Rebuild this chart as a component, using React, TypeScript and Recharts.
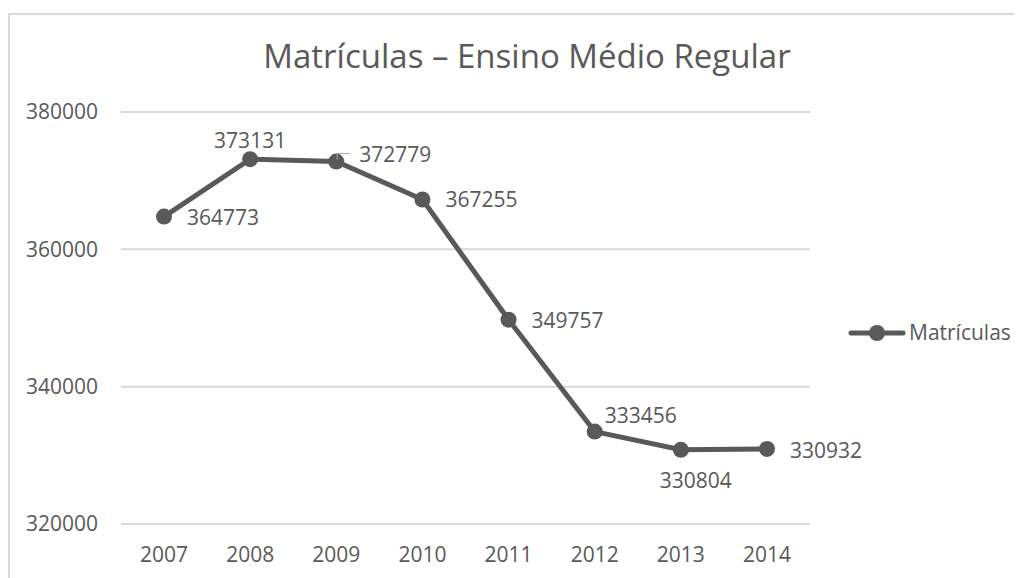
import React from "react";
import { LineChart, Line, XAxis, YAxis, CartesianGrid, LabelList } from "recharts";

const years = ["2007", "2008", "2009", "2010", "2011", "2012", "2013", "2014"];
const matriculas = [364773, 373131, 372779, 367255, 349757, 333456, 330804, 330932];
const yTicks = [320000, 340000, 360000, 380000];
const seriesName = "Matrículas";
const title = "Matrículas – Ensino Médio Regular";

// where each data label sits relative to its point (Excel put them by hand)
const labelSpots = [
  { dx: 23, dy: 8, anchor: "start" },
  { dx: 0, dy: -11, anchor: "middle" },
  { dx: 23, dy: 0, anchor: "start", leader: true },
  { dx: 23, dy: 7, anchor: "start" },
  { dx: 23, dy: 8, anchor: "start" },
  { dx: 10, dy: -9, anchor: "start" },
  { dx: 15, dy: 38, anchor: "middle" },
  { dx: 23, dy: 9, anchor: "start" },
];

const GRAY = "#595959";
const FONT = "'Open Sans', sans-serif";

const data = years.map((y, i) => ({ year: y, value: matriculas[i] }));

function PointLabel(props: any) {
  const { x, y, value, index } = props;
  const s = labelSpots[index];
  return (
    <g>
      {s.leader && (
        <polyline
          points={`${x + 1},${y - 2} ${x + 1},${y - 8} ${x + 14},${y - 8}`}
          fill="none"
          stroke="#a6a6a6"
          strokeWidth={1}
        />
      )}
      <text
        x={x + s.dx}
        y={y + s.dy}
        textAnchor={s.anchor}
        fill={GRAY}
        fontSize={21}
        fontFamily={FONT}
      >
        {value}
      </text>
    </g>
  );
}

export default function App() {
  return (
    <div style={{ position: "relative", width: 1014, height: 570, overflow: "hidden", background: "#fff" }}>
      <div
        style={{
          position: "absolute",
          left: 0,
          top: 5,
          width: 1100,
          height: 700,
          border: "2px solid #d9d9d9",
        }}
      />
      <LineChart
        width={1014}
        height={570}
        data={data}
        margin={{ top: 104, right: 212, left: 0, bottom: 0 }}
        style={{ position: "absolute", left: 0, top: 0 }}
      >
        <CartesianGrid vertical={false} stroke="#d9d9d9" strokeWidth={2} />
        <XAxis
          dataKey="year"
          height={54}
          interval={0}
          axisLine={false}
          tickLine={false}
          tickMargin={17}
          padding={{ left: 43, right: 43 }}
          tick={{ fontSize: 21, fill: GRAY, fontFamily: FONT }}
        />
        <YAxis
          width={113}
          domain={[320000, 380000]}
          ticks={yTicks}
          interval={0}
          axisLine={false}
          tickLine={false}
          tickMargin={17}
          tick={{ fontSize: 21, fill: GRAY, fontFamily: FONT }}
        />
        <Line
          dataKey="value"
          name={seriesName}
          stroke={GRAY}
          strokeWidth={5}
          dot={{ r: 8, fill: GRAY, stroke: "none" }}
          activeDot={false}
          isAnimationActive={false}
        >
          <LabelList dataKey="value" content={<PointLabel />} />
        </Line>
      </LineChart>
      <svg
        width={1014}
        height={570}
        style={{ position: "absolute", left: 0, top: 0, pointerEvents: "none" }}
      >
        <text x={519} y={60} textAnchor="middle" fill={GRAY} fontSize={33} fontFamily={FONT}>
          {title}
        </text>
        <line x1={843} y1={325} x2={895} y2={325} stroke={GRAY} strokeWidth={5} strokeLinecap="round" />
        <circle cx={869} cy={325} r={8} fill={GRAY} />
        <text x={901} y={332} fill={GRAY} fontSize={21} fontFamily={FONT}>
          {seriesName}
        </text>
      </svg>
    </div>
  );
}
